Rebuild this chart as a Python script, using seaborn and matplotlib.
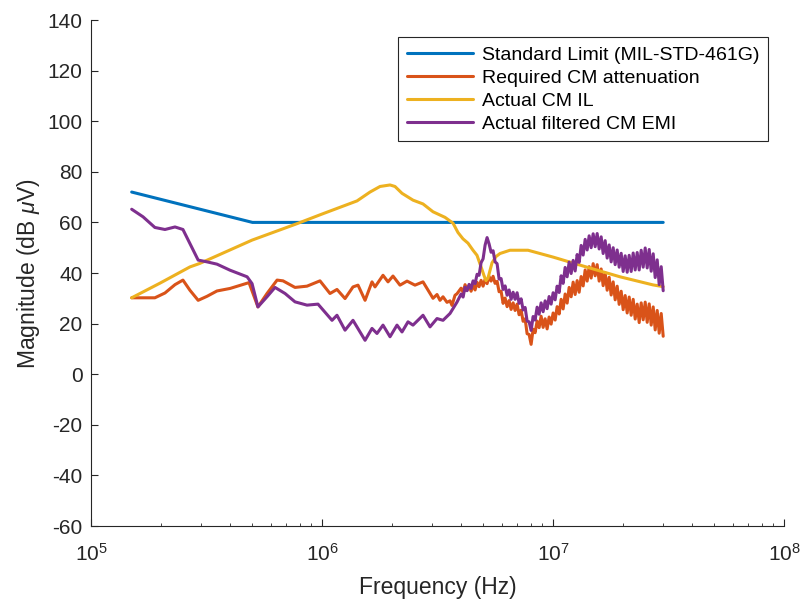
import numpy as np
import pandas as pd
import matplotlib
matplotlib.use("Agg")
import matplotlib.pyplot as plt
import seaborn as sns
from matplotlib.ticker import LogLocator, NullFormatter

# ---------------- data ----------------
series_names = ["Standard Limit (MIL-STD-461G)", "Required CM attenuation",
                "Actual CM IL", "Actual filtered CM EMI"]
series_colors = ["#0072BD", "#D95319", "#EDB120", "#7E2F8E"]

limit_f_mhz = [0.15, 0.5, 30.0]
limit_db = [72.0, 60.0, 60.0]

il_f_mhz = [0.15, 0.199, 0.268, 0.296, 0.498, 0.7795, 1.0, 1.418, 1.614, 1.783,
            1.970, 2.070, 2.220, 2.477, 2.737, 3.024, 3.408, 3.691, 3.879, 4.077,
            4.286, 4.505, 4.688, 4.879, 5.027, 5.128, 5.231, 5.337, 5.445, 5.666,
            5.896, 6.514, 7.795, 10.0, 14.04, 19.50, 27.09, 30.0]
il_db = [30.2, 36.0, 42.4, 43.8, 53.0, 59.5, 63.3, 68.5, 72.0, 74.2,
         74.8, 74.2, 71.5, 68.8, 67.3, 64.2, 62.0, 59.7, 56.0, 53.5,
         51.8, 49.0, 47.0, 42.5, 39.0, 37.0, 38.0, 41.0, 44.0, 46.5,
         47.7, 49.0, 49.0, 46.3, 42.3, 38.5, 35.3, 34.6]

# low-frequency part (150 kHz - 4 MHz)
req_lo_f_mhz = [0.150, 0.189, 0.209, 0.231, 0.250, 0.268, 0.291, 0.318, 0.351, 0.400,
                0.483, 0.528, 0.578, 0.639, 0.678, 0.764, 0.861, 0.980, 1.083, 1.161,
                1.258, 1.362, 1.432, 1.536, 1.646, 1.696, 1.837, 1.931, 2.029, 2.176,
                2.334, 2.527, 2.737, 2.935, 3.024, 3.147, 3.242, 3.341, 3.477, 3.582,
                3.654, 3.765, 3.841]
req_lo_db = [30.2, 30.2, 32.1, 35.4, 37.2, 33.2, 29.2, 30.8, 32.9, 33.9,
             36.2, 26.6, 31.9, 37.2, 36.9, 34.3, 34.8, 36.9, 31.9, 33.5,
             29.9, 34.5, 35.2, 29.2, 36.5, 34.5, 39.1, 36.5, 38.8, 35.2,
             36.8, 35.2, 36.5, 31.9, 30.0, 31.5, 29.2, 30.6, 28.4, 29.0,
             27.2, 31.2, 31.8]

emi_lo_f_mhz = [0.150, 0.168, 0.189, 0.209, 0.231, 0.250, 0.268, 0.291, 0.318, 0.351,
                0.400, 0.474, 0.498, 0.528, 0.578, 0.626, 0.692, 0.764, 0.861, 0.961,
                1.105, 1.161, 1.258, 1.362, 1.536, 1.646, 1.730, 1.837, 1.970, 2.112,
                2.220, 2.357, 2.477, 2.737, 2.935, 3.147, 3.341, 3.582, 3.841]
emi_lo_db = [65.2, 62.2, 58.0, 57.2, 58.2, 57.2, 51.7, 45.1, 44.4, 43.5,
             41.1, 38.5, 35.8, 26.6, 30.6, 34.3, 31.9, 28.6, 27.3, 27.7,
             21.3, 23.3, 17.4, 21.3, 13.4, 18.1, 16.1, 19.4, 14.8, 19.4,
             16.7, 20.7, 19.4, 23.3, 18.7, 22.0, 21.3, 24.0, 28.5]

# high-frequency sweep (4 MHz - 30 MHz, log-spaced measurement points)
hf_start_hz, hf_stop_hz = 4.0e6, 30.0e6
req_hf_db = [34.0, 32.4, 35.4, 33.2, 35.0, 32.8, 35.2, 33.3, 36.3, 34.6,
             37.1, 34.8, 37.5, 35.8, 38.6, 36.8, 38.7, 35.9, 36.7, 32.6,
             32.8, 28.0, 30.1, 26.7, 29.1, 25.6, 28.2, 25.2, 27.7, 23.5,
             25.3, 20.9, 21.9, 16.0, 15.7, 11.8, 17.8, 16.4, 21.0, 18.4,
             22.9, 18.5, 21.9, 17.9, 22.6, 19.8, 24.2, 21.4, 26.7, 23.8,
             29.6, 25.8, 31.7, 28.1, 34.3, 30.6, 36.4, 31.5, 37.0, 32.4,
             38.6, 34.9, 41.2, 36.8, 42.5, 38.0, 43.7, 38.9, 43.3, 36.8,
             41.6, 35.0, 40.1, 33.2, 38.3, 31.3, 36.5, 29.4, 34.8, 27.6,
             32.8, 25.5, 31.1, 24.2, 30.5, 23.3, 29.6, 21.8, 27.7, 20.4,
             28.2, 21.5, 28.5, 20.5, 27.8, 19.4, 26.6, 17.5, 25.2, 16.2,
             24.0, 15.0]
emi_hf_db = [31.7, 30.5, 34.4, 33.0, 35.5, 33.9, 36.9, 35.8, 39.5, 39.1,
             44.1, 45.6, 51.0, 54.0, 51.5, 48.2, 48.8, 44.4, 43.7, 37.6,
             37.8, 33.5, 34.9, 31.2, 33.3, 29.6, 32.4, 29.6, 32.2, 28.0,
             29.8, 25.4, 26.4, 21.0, 20.7, 17.3, 22.8, 21.4, 26.5, 23.7,
             28.2, 24.7, 29.0, 25.9, 30.7, 27.7, 32.2, 29.4, 34.8, 32.3,
             38.9, 35.9, 42.2, 38.5, 44.3, 39.8, 45.0, 40.8, 47.3, 44.2,
             50.9, 47.1, 53.3, 49.1, 54.7, 50.0, 55.5, 50.4, 55.6, 49.5,
             54.3, 47.7, 52.8, 45.9, 51.1, 44.4, 50.0, 43.3, 49.1, 42.3,
             47.8, 40.6, 46.8, 40.3, 47.0, 40.6, 47.9, 41.2, 48.1, 41.2,
             49.0, 42.3, 49.9, 42.0, 49.3, 40.7, 47.6, 38.2, 45.2, 35.4,
             42.5, 33.0]

y_ticks = list(range(-60, 141, 20))

# ---------------- assemble ----------------
hf_f = np.logspace(np.log10(hf_start_hz), np.log10(hf_stop_hz), len(req_hf_db))
frames = [
    pd.DataFrame({"f": np.array(limit_f_mhz) * 1e6, "v": limit_db, "s": series_names[0]}),
    pd.DataFrame({"f": np.concatenate([np.array(req_lo_f_mhz) * 1e6, hf_f]),
                  "v": req_lo_db + req_hf_db, "s": series_names[1]}),
    pd.DataFrame({"f": np.array(il_f_mhz) * 1e6, "v": il_db, "s": series_names[2]}),
    pd.DataFrame({"f": np.concatenate([np.array(emi_lo_f_mhz) * 1e6, hf_f]),
                  "v": emi_lo_db + emi_hf_db, "s": series_names[3]}),
]

# ---------------- style ----------------
sns.set_theme(style="ticks")
plt.rcParams["font.family"] = ["Liberation Sans", "DejaVu Sans"]
plt.rcParams["mathtext.fontset"] = "custom"
plt.rcParams["mathtext.rm"] = "Liberation Sans"
plt.rcParams["mathtext.it"] = "Liberation Sans:italic"
plt.rcParams["mathtext.bf"] = "Liberation Sans:bold"
plt.rcParams["axes.unicode_minus"] = False
axis_col = "#262626"

fig = plt.figure(figsize=(8.04, 6.10), dpi=100)
ax = fig.add_axes([0.1132, 0.1377, 0.8619, 0.8295])

for df, name, col in zip(frames, series_names, series_colors):
    sns.lineplot(data=df, x="f", y="v", ax=ax, color=col, linewidth=2.2,
                 label=name, estimator=None, sort=False)

ax.set_xscale("log")
ax.set_xlim(1e5, 1e8)
ax.set_ylim(-60, 140)
ax.set_yticks(y_ticks)
ax.xaxis.set_minor_locator(LogLocator(base=10, subs=np.arange(2, 10), numticks=20))
ax.xaxis.set_minor_formatter(NullFormatter())

for side in ["top", "right"]:
    ax.spines[side].set_visible(False)
for side in ["left", "bottom"]:
    ax.spines[side].set_color(axis_col)
    ax.spines[side].set_linewidth(0.8)

ax.tick_params(axis="both", which="major", direction="in", length=5, width=0.8,
               colors=axis_col, labelsize=15, pad=6)
ax.tick_params(axis="x", which="minor", direction="in", length=2.5, width=0.6,
               colors=axis_col)
ax.tick_params(axis="y", which="minor", left=False)
ax.tick_params(axis="x", which="major", pad=12)

ax.set_xlabel("Frequency (Hz)", fontsize=16.5, color=axis_col, labelpad=8)
ax.set_ylabel(r"Magnitude (dB $\mu$V)", fontsize=16.5, color=axis_col, labelpad=4)

handles, labels = ax.get_legend_handles_labels()
leg = ax.legend(handles, labels, loc="upper right", bbox_to_anchor=(0.977, 0.966),
                fontsize=14, frameon=True, fancybox=False, edgecolor=axis_col,
                framealpha=1.0, borderpad=0.45, labelspacing=0.28,
                handlelength=3.4, handletextpad=0.45, borderaxespad=0.0)
leg.get_frame().set_linewidth(0.8)
for t in leg.get_texts():
    t.set_color("black")

fig.savefig("out.png", dpi=100)
